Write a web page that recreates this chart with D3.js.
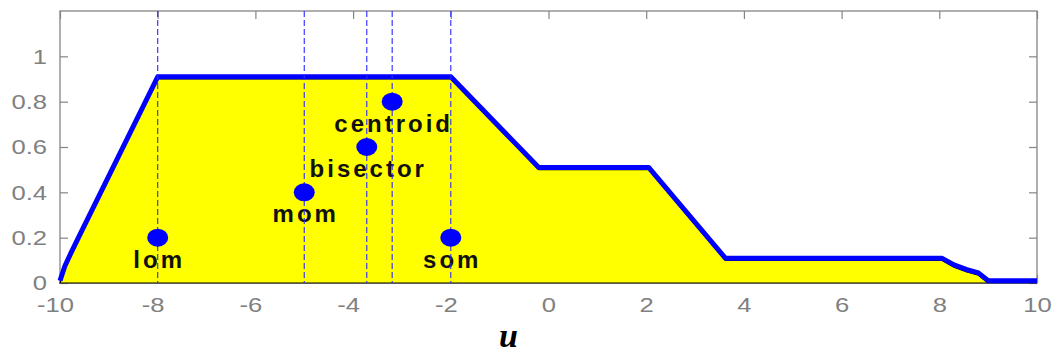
<!DOCTYPE html>
<html>
<head>
<meta charset="utf-8">
<script src="https://cdn.jsdelivr.net/npm/d3@7"></script>
<style>
  html, body { margin: 0; padding: 0; background: #fff; }
  svg { display: block; }
</style>
</head>
<body>
<svg id="chart" width="1055" height="354"></svg>
<script>
// Aggregated output membership function (u vs. membership)
const uPoints  = [-10, -9.9, -9.76, -9.6, -8, -2, -0.2, 2.05, 3.62, 8.05, 8.3, 8.55, 8.8, 9.0, 10];
const muPoints = [0, 0.065, 0.13, 0.2, 0.9, 0.9, 0.5, 0.5, 0.1, 0.1, 0.07, 0.05, 0.035, 0, 0];

// Defuzzified values and the heights at which their markers are drawn
const methods   = ["lom", "mom", "bisector", "centroid", "som"];
const crispU    = [-8, -5, -3.72, -3.2, -2];
const markerMu  = [0.2, 0.4, 0.6, 0.8, 0.2];

// Axis ticks
const xTicks = [-10, -8, -6, -4, -2, 0, 2, 4, 6, 8, 10];
const yTicks = [0, 0.2, 0.4, 0.6, 0.8, 1];

const svg = d3.select("#chart");
const plotLeft = 60, plotRight = 1037, plotTop = 11, plotBottom = 283;

const x = d3.scaleLinear().domain([-10, 10]).range([plotLeft, plotRight]);
const y = d3.scaleLinear().domain([0, 1.2]).range([plotBottom, plotTop]);

const axisColor = "#858585";
const labelFont = "'Liberation Sans', Arial, Helvetica, sans-serif";

function styleAxis(g) {
  g.select(".domain").remove();
  g.selectAll(".tick line").attr("stroke", axisColor).attr("stroke-width", 1.2);
  g.selectAll("text")
    .attr("fill", "#808080")
    .attr("font-family", labelFont)
    .attr("font-size", 21);
}

// Box frame
svg.append("rect")
  .attr("x", plotLeft).attr("y", plotTop)
  .attr("width", plotRight - plotLeft).attr("height", plotBottom - plotTop)
  .attr("fill", "none").attr("stroke", axisColor).attr("stroke-width", 1.3);

// Inward ticks on all four sides (labels use a plain hyphen for negatives)
const gx = svg.append("g").attr("transform", `translate(0,${plotBottom})`)
  .call(d3.axisBottom(x).tickValues(xTicks).tickSize(-8).tickPadding(14).tickFormat(d => String(d)))
  .call(styleAxis);
gx.selectAll("text").each(function(d) {
  const t = d3.select(this);
  const yy = +t.attr("y");
  const shift = d < 0 ? -5 : 0;
  t.attr("x", 0).attr("y", 0)
   .attr("transform", `translate(${shift},${yy}) scale(1.22,1)`);
});

svg.append("g").attr("transform", `translate(0,${plotTop})`)
  .call(d3.axisTop(x).tickValues(xTicks).tickSize(-8).tickFormat(""))
  .call(styleAxis);

const gy = svg.append("g").attr("transform", `translate(${plotLeft},0)`)
  .call(d3.axisLeft(y).tickValues(yTicks).tickSize(-8).tickPadding(13).tickFormat(d => String(d)))
  .call(styleAxis);
gy.selectAll("text").each(function() {
  const t = d3.select(this);
  const xx = +t.attr("x");
  t.attr("x", 0).attr("transform", `translate(${xx},0) scale(1.22,1)`);
});

svg.append("g").attr("transform", `translate(${plotRight},0)`)
  .call(d3.axisRight(y).tickValues(yTicks).tickSize(-8).tickFormat(""))
  .call(styleAxis);

// Filled region under the membership function
const pts = uPoints.map((u, i) => [u, muPoints[i]]);
const area = d3.area().x(d => x(d[0])).y0(y(0)).y1(d => y(d[1]));
svg.append("path")
  .datum(pts)
  .attr("d", area)
  .attr("fill", "#ffff00")
  .attr("stroke", "#000")
  .attr("stroke-width", 1.2);

// Outline of the membership function
const line = d3.line().x(d => x(d[0])).y(d => y(d[1]));
svg.append("path")
  .datum(pts)
  .attr("d", line)
  .attr("transform", "translate(0,-2.2)")
  .attr("fill", "none")
  .attr("stroke", "#0000ff")
  .attr("stroke-width", 5)
  .attr("stroke-linejoin", "round");

// Method names under the markers
svg.append("g").selectAll("text")
  .data(methods)
  .join("text")
  .attr("x", (d, i) => x(crispU[i]) + 1.5)
  .attr("y", (d, i) => y(markerMu[i]) + 30)
  .attr("text-anchor", "middle")
  .attr("font-family", labelFont)
  .attr("font-weight", "bold")
  .attr("font-size", 24)
  .attr("letter-spacing", 3)
  .attr("fill", "#111")
  .text(d => d);

// Dashed verticals at each defuzzified value
svg.append("g").selectAll("line")
  .data(crispU)
  .join("line")
  .attr("x1", d => x(d)).attr("x2", d => x(d))
  .attr("y1", plotTop).attr("y2", plotBottom)
  .attr("stroke", "#2a2aff")
  .attr("stroke-width", 1.1)
  .attr("stroke-dasharray", "6,3");

// Markers
svg.append("g").selectAll("ellipse")
  .data(crispU)
  .join("ellipse")
  .attr("cx", d => x(d))
  .attr("cy", (d, i) => y(markerMu[i]))
  .attr("rx", 10.5).attr("ry", 9)
  .attr("fill", "#0000ff");

// Axis title
svg.append("text")
  .attr("x", 508.5).attr("y", 347)
  .attr("text-anchor", "middle")
  .attr("font-family", "'Liberation Serif', 'Times New Roman', serif")
  .attr("font-style", "italic")
  .attr("font-weight", "bold")
  .attr("font-size", 34)
  .attr("fill", "#000")
  .text("u");
</script>
</body>
</html>
